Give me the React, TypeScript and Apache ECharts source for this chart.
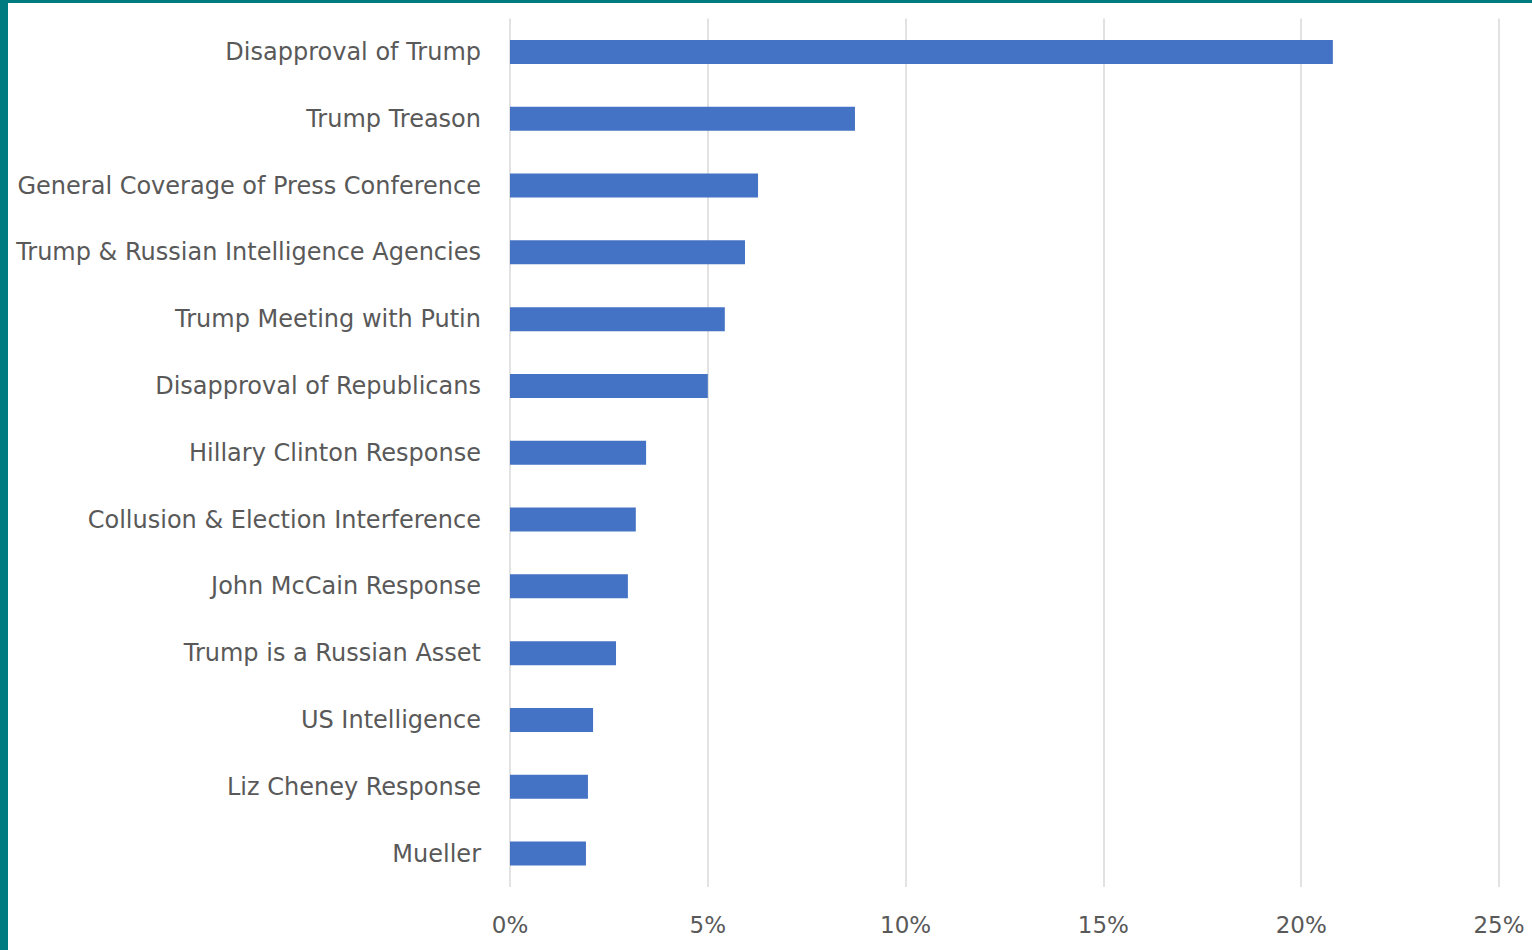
import React, { useEffect, useRef } from "react";
import * as echarts from "echarts";

const categories = [
  "Disapproval of Trump",
  "Trump Treason",
  "General Coverage of Press Conference",
  "Trump & Russian Intelligence Agencies",
  "Trump Meeting with Putin",
  "Disapproval of Republicans",
  "Hillary Clinton Response",
  "Collusion & Election Interference",
  "John McCain Response",
  "Trump is a Russian Asset",
  "US Intelligence",
  "Liz Cheney Response",
  "Mueller",
];

const values = [20.8, 8.72, 6.27, 5.94, 5.43, 5.0, 3.44, 3.18, 2.98, 2.68, 2.1, 1.97, 1.92];

const tickLabels = ["0%", "5%", "10%", "15%", "20%", "25%"];

export default function App() {
  const ref = useRef<HTMLDivElement>(null);
  useEffect(() => {
    if (!ref.current) return;
    const chart = echarts.init(ref.current, null, { renderer: "svg" });
    chart.setOption({
      animation: false,
      backgroundColor: "#ffffff",
      grid: { left: 502, right: 33, top: 15.5, height: 868.5, containLabel: false },
      xAxis: {
        type: "value",
        min: 0,
        max: 25,
        interval: 5,
        axisLine: { show: false },
        axisTick: { show: false },
        splitLine: { show: true, lineStyle: { color: "#d9d9d9", width: 1.5 } },
        axisLabel: {
          margin: 26,
          color: "#595959",
          fontSize: 23,
          fontFamily: "DejaVu Sans",
          formatter: (v: number) => tickLabels[Math.round(v / 5)] ?? "",
        },
      },
      yAxis: {
        type: "category",
        data: categories,
        inverse: true,
        axisLine: { show: false },
        axisTick: { show: false },
        axisLabel: {
          margin: 29,
          color: "#595959",
          fontSize: 24,
          fontFamily: "DejaVu Sans",
          padding: [0, 0, 3, 0],
        },
      },
      series: [
        {
          type: "bar",
          data: values,
          barWidth: 24,
          itemStyle: { color: "#4472C4" },
        },
      ],
    });
    return () => chart.dispose();
  }, []);
  return (
    <div
      style={{
        position: "fixed",
        left: 0,
        top: 0,
        width: 1532,
        height: 950,
        background: "#007B80",
      }}
    >
      <div
        ref={ref}
        style={{ position: "absolute", left: 8, top: 3, width: 1524, height: 947, background: "#fff" }}
      />
    </div>
  );
}
